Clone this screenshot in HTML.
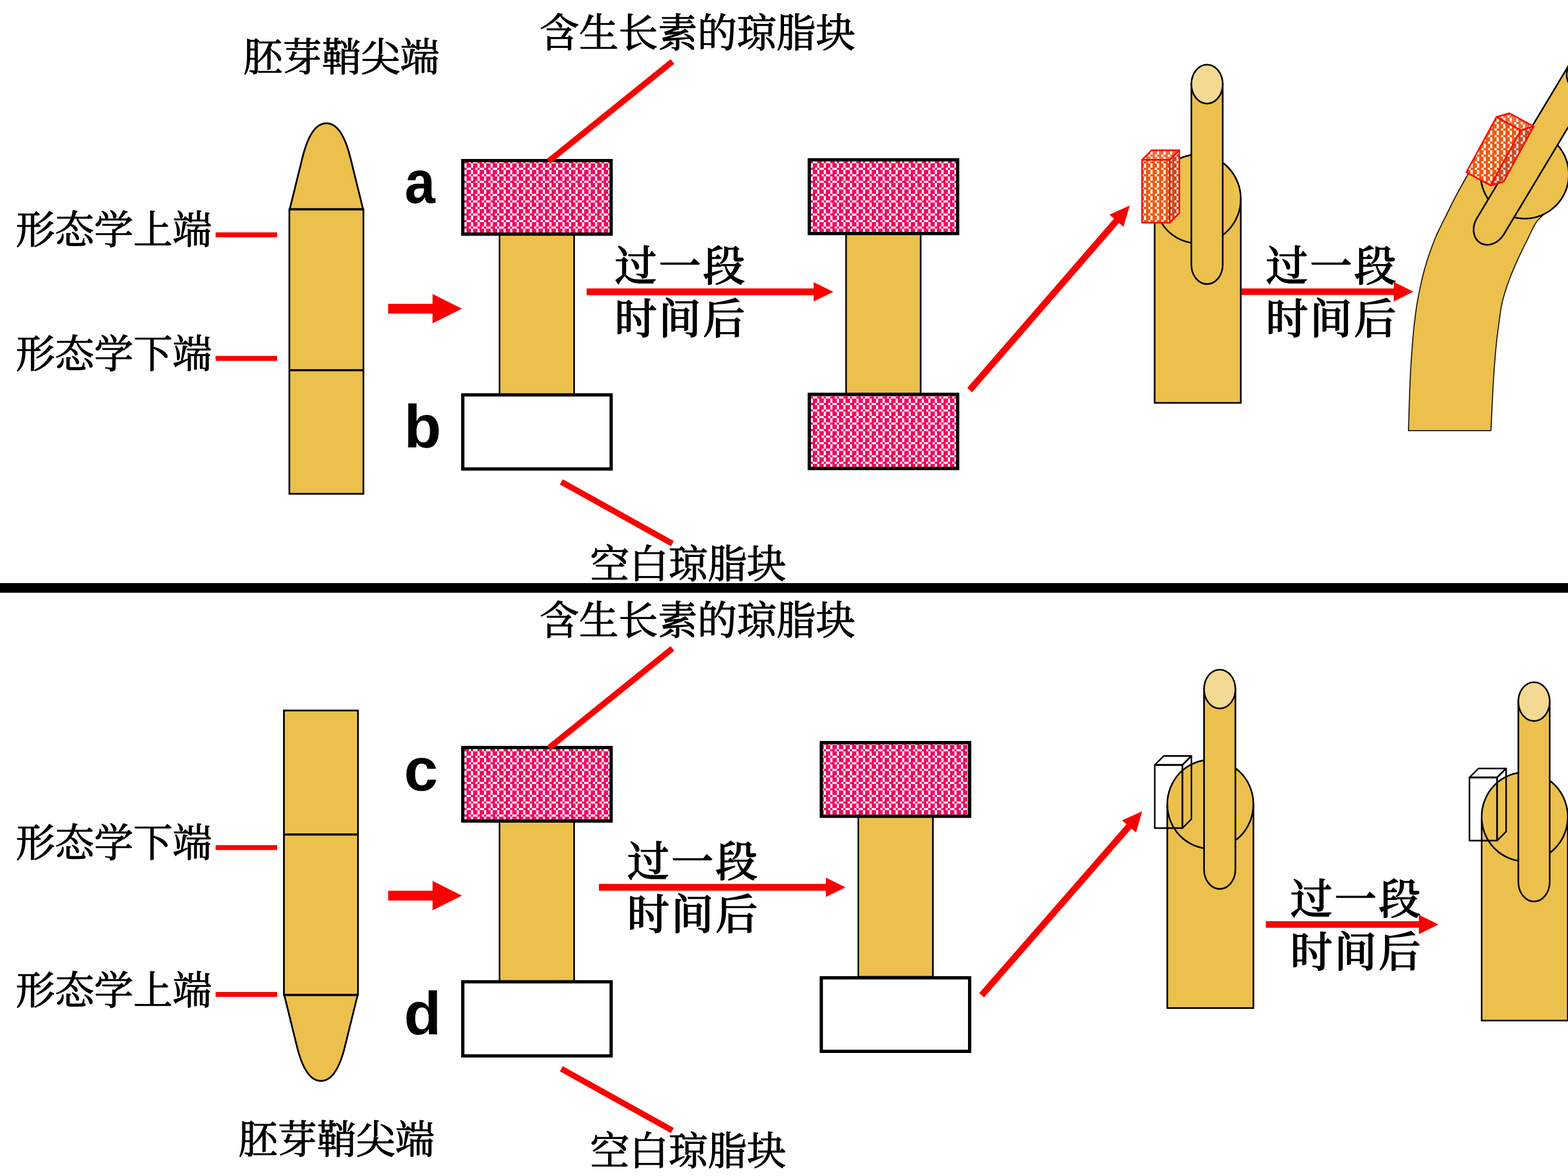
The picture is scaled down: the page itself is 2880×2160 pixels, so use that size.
<!DOCTYPE html>
<html lang="zh-CN"><head><meta charset="utf-8"><title>生长素极性运输实验</title>
<style>
html,body{margin:0;padding:0;background:#fff;width:2880px;height:2160px;overflow:hidden}
svg{display:block}
.cn{font-family:"Liberation Serif","Noto Serif CJK SC",serif;font-weight:400;fill:#000;stroke:#000;stroke-width:1.5px;stroke-linejoin:round}
.cnb{letter-spacing:3.5px;font-family:"Liberation Serif","Noto Serif CJK SC",serif;font-weight:500;fill:#000;stroke:#000;stroke-width:1.6px;stroke-linejoin:round}
.en{font-family:"Liberation Sans","Noto Sans CJK SC",sans-serif;font-weight:700;fill:#000}
</style></head><body>
<svg width="2880" height="2160" viewBox="0 0 2880 2160">
<rect width="2880" height="2160" fill="#fff"/>
<defs>
<pattern id="pk" x="13" y="20" width="24" height="24" patternUnits="userSpaceOnUse"><rect width="24" height="24" fill="#F3055F"/><rect x="4" y="0" width="8" height="4" fill="#FFF0FA"/><rect x="20" y="0" width="4" height="4" fill="#FFF0FA"/><rect x="0" y="4" width="4" height="4" fill="#FFF0FA"/><rect x="12" y="4" width="4" height="4" fill="#FFF0FA"/><rect x="0" y="8" width="4" height="4" fill="#FFF0FA"/><rect x="12" y="8" width="4" height="4" fill="#FFF0FA"/><rect x="8" y="12" width="4" height="4" fill="#FFF0FA"/><rect x="16" y="12" width="8" height="4" fill="#FFF0FA"/><rect x="0" y="16" width="4" height="4" fill="#FFF0FA"/><rect x="12" y="16" width="4" height="4" fill="#FFF0FA"/><rect x="0" y="20" width="4" height="4" fill="#FFF0FA"/><rect x="12" y="20" width="4" height="4" fill="#FFF0FA"/></pattern>
<pattern id="orf" x="9" y="8" width="12" height="12" patternUnits="userSpaceOnUse"><rect width="12" height="12" fill="#EE5A17"/><rect x="0" y="0" width="4" height="4" fill="#FFF9E0"/><rect x="4" y="4" width="4" height="8" fill="#FFF9E0"/></pattern>
<pattern id="ors" x="9" y="8" width="12" height="12" patternUnits="userSpaceOnUse"><rect width="12" height="12" fill="#C44E1E"/><rect x="0" y="0" width="4" height="4" fill="#F5D8D4"/><rect x="4" y="4" width="4" height="8" fill="#F5D8D4"/></pattern>
<pattern id="ort" x="9" y="8" width="12" height="12" patternUnits="userSpaceOnUse"><rect width="12" height="12" fill="#EF6C3C"/><rect x="0" y="0" width="4" height="4" fill="#FFF8DC"/><rect x="4" y="4" width="4" height="8" fill="#FFF8DC"/></pattern>
</defs>
<text x="447" y="129.5" font-size="72" class="cn" text-anchor="start" >胚芽鞘尖端</text>
<text x="991" y="86" font-size="72.5" class="cn" text-anchor="start" >含生长素的琼脂块</text>
<text x="29" y="446.5" font-size="72" class="cn" text-anchor="start" >形态学上端</text>
<text x="29" y="674.5" font-size="72" class="cn" text-anchor="start" >形态学下端</text>
<line x1="396" y1="431.3" x2="509" y2="431.3" stroke="#FB0000" stroke-width="9"/>
<line x1="396" y1="658.3" x2="509" y2="658.3" stroke="#FB0000" stroke-width="9"/>
<path d="M532.1,384.4 L555.2,290.7 C558.7,276.5 570.5,226.4 599.5,226.4 C628.5,226.4 640.3,276.5 643.8,290.7 L666.9,384.4 Z" fill="#EBC04D" stroke="#000" stroke-width="3.2" stroke-linejoin="round"/><rect x="531.5" y="384.4" width="136" height="522.6" fill="#EBC04D" stroke="#000" stroke-width="3.2"/><line x1="531.5" y1="680" x2="667.5" y2="680" stroke="#000" stroke-width="4"/><line x1="531.5" y1="384.4" x2="667.5" y2="384.4" stroke="#000" stroke-width="4"/>
<path d="M713,558.0 L794.5,558.0 L794.5,540 L848.5,567 L794.5,594 L794.5,576.0 L713,576.0 Z" fill="#FB0000"/>
<g transform="translate(747.7,373.4) scale(0.9,1)"><text x="-5" y="0" font-size="112" class="en" text-anchor="start" >a</text></g>
<text x="742" y="822" font-size="112" class="en" text-anchor="start" >b</text>
<rect x="917.5" y="431" width="137" height="294" fill="#EBC04D" stroke="#000" stroke-width="3"/>
<rect x="850.0" y="295.0" width="272.5" height="135" fill="url(#pk)" stroke="#000" stroke-width="6"/>
<rect x="850.0" y="725.3" width="272.5" height="136.10000000000002" fill="#fff" stroke="#000" stroke-width="6"/>
<line x1="1235" y1="113" x2="1008" y2="296" stroke="#FB0000" stroke-width="11"/>
<line x1="1031" y1="885" x2="1235" y2="998.5" stroke="#FB0000" stroke-width="11"/>
<text x="1084" y="1061" font-size="72" class="cn" text-anchor="start" >空白琼脂块</text>
<text x="1129" y="516" font-size="77.5" class="cnb" text-anchor="start" >过一段</text>
<text x="1129" y="613" font-size="77.5" class="cnb" text-anchor="start" >时间后</text>
<path d="M1077.5,529.75 L1494.5,529.75 L1494.5,518.3 L1530.5,536 L1494.5,553.7 L1494.5,542.25 L1077.5,542.25 Z" fill="#FB0000"/>
<rect x="1554" y="430" width="137" height="294" fill="#EBC04D" stroke="#000" stroke-width="3"/>
<rect x="1486.5" y="293.5" width="272.5" height="135.5" fill="url(#pk)" stroke="#000" stroke-width="6"/>
<rect x="1486.5" y="724.3" width="272.5" height="136.20000000000005" fill="url(#pk)" stroke="#000" stroke-width="6"/>
<path d="M1785.5,720.4 L2055.3,409.4 L2063.6,416.6 L2075.0,377.5 L2037.9,394.3 L2046.2,401.5 L1776.5,712.6 Z" fill="#FB0000"/>
<path d="M2120.8,740 L2120.8,365.3 A79.1,81.6 0 0 1 2279.0,365.3 L2279.0,740 Z" fill="#EBC04D" stroke="none"/><ellipse cx="2199.9" cy="365.3" rx="79.1" ry="81.6" fill="#EBC04D" stroke="#000" stroke-width="3"/><path d="M2120.8,365.3 L2120.8,740 L2279.0,740 L2279.0,365.3" fill="none" stroke="#000" stroke-width="3"/><path d="M2188.2,154.5 L2188.2,486 A28.8,35.7 0 0 0 2245.8,486 L2245.8,154.5 Z" fill="#EBC04D" stroke="#000" stroke-width="3"/><ellipse cx="2217" cy="154.5" rx="28.8" ry="35.7" fill="#F3D992" stroke="#000" stroke-width="3"/>
<path d="M2097.7,293.5 L2115.2,276.0 L2166.0,276.0 L2148.5,293.5 Z" fill="url(#ort)" stroke="#FA0A0A" stroke-width="3" stroke-linejoin="round"/><path d="M2148.5,293.5 L2166.0,276.0 L2166.0,391.5 L2148.5,409.0 Z" fill="url(#ors)" stroke="#FA0A0A" stroke-width="3" stroke-linejoin="round"/><path d="M2097.7,293.5 L2148.5,293.5 L2148.5,409.0 L2097.7,409.0 Z" fill="url(#orf)" stroke="#FA0A0A" stroke-width="3" stroke-linejoin="round"/>
<text x="2325" y="516" font-size="77.5" class="cnb" text-anchor="start" >过一段</text>
<text x="2325" y="613" font-size="77.5" class="cnb" text-anchor="start" >时间后</text>
<path d="M2280,529.7 L2560,529.7 L2560,517.7 L2596,535.7 L2560,553.7 L2560,541.7 L2280,541.7 Z" fill="#FB0000"/>
<path d="M2587.0,791.0 C2587.2,784.2 2587.8,763.4 2588.2,750.1 C2588.6,736.9 2589.0,724.4 2589.5,711.5 C2590.0,698.6 2590.6,685.8 2591.4,672.9 C2592.2,660.0 2593.1,647.2 2594.1,634.3 C2595.1,621.4 2596.1,608.6 2597.6,595.7 C2599.1,582.9 2600.7,570.1 2602.8,557.2 C2605.0,544.4 2607.6,531.3 2610.5,518.6 C2613.4,505.9 2616.4,494.1 2620.5,481.0 C2624.6,467.9 2630.8,450.8 2635.0,440.0 C2639.2,429.2 2641.9,424.7 2645.9,416.4 C2649.9,408.1 2654.6,399.0 2658.9,390.3 C2663.2,381.6 2667.6,372.6 2671.9,364.3 C2676.2,356.0 2680.9,347.6 2684.9,340.4 C2688.9,333.2 2691.3,328.5 2695.8,320.9 C2700.3,313.3 2709.3,299.3 2712.0,295.0 L2800,320 L2834.9,394.3 C2832.5,396.9 2825.2,402.7 2820.4,410.2 C2815.6,417.7 2811.5,427.8 2805.9,439.1 C2800.3,450.4 2792.9,464.8 2787.0,478.0 C2781.1,491.2 2775.0,505.4 2770.3,518.6 C2765.6,531.8 2761.6,544.4 2758.7,557.2 C2755.8,570.1 2754.7,582.9 2752.9,595.7 C2751.1,608.6 2749.4,621.4 2748.1,634.3 C2746.8,647.2 2745.8,660.0 2744.8,672.9 C2743.8,685.8 2743.0,698.6 2742.3,711.5 C2741.6,724.4 2741.1,736.9 2740.4,750.1 C2739.8,763.4 2738.7,784.2 2738.4,791.0 Z" fill="#EBC04D" stroke="#1e1608" stroke-width="2" stroke-linejoin="round"/>
<circle cx="2800.5" cy="320.5" r="81" fill="#EBC04D" stroke="#000" stroke-width="3"/>
<g transform="translate(2737.4,415.6) rotate(31)"><path d="M-28.8,-420 L-28.8,0 A28.8,35.7 0 0 0 28.8,0 L28.8,-420 Z" fill="#EBC04D" stroke="#000" stroke-width="3"/><ellipse cx="0" cy="-332" rx="28.8" ry="35.7" fill="#F3D992" stroke="#000" stroke-width="3"/></g>
<path d="M2748.6,215.0 L2772.3,208.0 L2816.9,232.3 L2793.2,239.3 Z" fill="url(#ort)" stroke="#FA0A0A" stroke-width="3" stroke-linejoin="round"/><path d="M2793.2,239.3 L2816.9,232.3 L2761.7,333.7 L2737.9,340.7 Z" fill="url(#ors)" stroke="#FA0A0A" stroke-width="3" stroke-linejoin="round"/><path d="M2748.6,215.0 L2793.2,239.3 L2737.9,340.7 L2693.3,316.4 Z" fill="url(#orf)" stroke="#FA0A0A" stroke-width="3" stroke-linejoin="round"/>
<rect x="0" y="1071" width="2880" height="17.7" fill="#000"/>
<text x="991" y="1164.7" font-size="72.5" class="cn" text-anchor="start" >含生长素的琼脂块</text>
<text x="29" y="1572.5" font-size="72" class="cn" text-anchor="start" >形态学下端</text>
<text x="29" y="1843.5" font-size="72" class="cn" text-anchor="start" >形态学上端</text>
<line x1="396" y1="1556.7" x2="509" y2="1556.7" stroke="#FB0000" stroke-width="9"/>
<line x1="396" y1="1826.6" x2="509" y2="1826.6" stroke="#FB0000" stroke-width="9"/>
<path d="M522.1,1827.5 L545.2,1921.2 C548.7,1935.3 560.5,1985.4 589.5,1985.4 C618.5,1985.4 630.3,1935.3 633.8,1921.2 L656.9,1827.5 Z" fill="#EBC04D" stroke="#000" stroke-width="3.2" stroke-linejoin="round"/><rect x="521.5" y="1305" width="136" height="522.5" fill="#EBC04D" stroke="#000" stroke-width="3.2"/><line x1="521.5" y1="1532.8" x2="657.5" y2="1532.8" stroke="#000" stroke-width="4"/><line x1="521.5" y1="1827.5" x2="657.5" y2="1827.5" stroke="#000" stroke-width="4"/>
<text x="438" y="2117.5" font-size="72" class="cn" text-anchor="start" >胚芽鞘尖端</text>
<path d="M713,1636.0 L794.5,1636.0 L794.5,1618 L848.5,1645 L794.5,1672 L794.5,1654.0 L713,1654.0 Z" fill="#FB0000"/>
<text x="742" y="1452" font-size="112" class="en" text-anchor="start" >c</text>
<text x="742" y="1900" font-size="112" class="en" text-anchor="start" >d</text>
<rect x="917.5" y="1509" width="137" height="294" fill="#EBC04D" stroke="#000" stroke-width="3"/>
<rect x="850.0" y="1373.0" width="272.5" height="135" fill="url(#pk)" stroke="#000" stroke-width="6"/>
<rect x="850.0" y="1803.3" width="272.5" height="136.10000000000014" fill="#fff" stroke="#000" stroke-width="6"/>
<line x1="1235" y1="1191" x2="1008" y2="1374" stroke="#FB0000" stroke-width="11"/>
<line x1="1031" y1="1963" x2="1235" y2="2076.5" stroke="#FB0000" stroke-width="11"/>
<text x="1084" y="2139" font-size="72" class="cn" text-anchor="start" >空白琼脂块</text>
<text x="1152" y="1610" font-size="77.5" class="cnb" text-anchor="start" >过一段</text>
<text x="1152" y="1707" font-size="77.5" class="cnb" text-anchor="start" >时间后</text>
<path d="M1100,1623.45 L1517,1623.45 L1517,1612.0 L1553,1629.7 L1517,1647.4 L1517,1635.95 L1100,1635.95 Z" fill="#FB0000"/>
<rect x="1576.5" y="1500" width="137" height="294" fill="#EBC04D" stroke="#000" stroke-width="3"/>
<rect x="1508.5" y="1364.0" width="272.5" height="135.29999999999995" fill="url(#pk)" stroke="#000" stroke-width="6"/>
<rect x="1508.5" y="1796.0" width="272.5" height="135" fill="#fff" stroke="#000" stroke-width="6"/>
<path d="M1807.5,1831.9 L2078.2,1521.8 L2086.5,1529.1 L2098.0,1490.0 L2060.9,1506.7 L2069.1,1513.9 L1798.5,1824.1 Z" fill="#FB0000"/>
<path d="M2144,1851.5 L2144,1477.2 A79.1,81.6 0 0 1 2302.2,1477.2 L2302.2,1851.5 Z" fill="#EBC04D" stroke="none"/><ellipse cx="2223.1" cy="1477.2" rx="79.1" ry="81.6" fill="#EBC04D" stroke="#000" stroke-width="3"/><path d="M2144,1477.2 L2144,1851.5 L2302.2,1851.5 L2302.2,1477.2" fill="none" stroke="#000" stroke-width="3"/><path d="M2211.5,1265.6 L2211.5,1597 A28.8,35.7 0 0 0 2269.1000000000004,1597 L2269.1000000000004,1265.6 Z" fill="#EBC04D" stroke="#000" stroke-width="3"/><ellipse cx="2240.3" cy="1265.6" rx="28.8" ry="35.7" fill="#F3D992" stroke="#000" stroke-width="3"/>
<path d="M2121.0,1405.0 L2137.5,1388.5 L2188.3,1388.5 L2171.8,1405.0 Z" fill="none" stroke="#000" stroke-width="2.8" stroke-linejoin="round"/><path d="M2171.8,1405.0 L2188.3,1388.5 L2188.3,1504.5 L2171.8,1521.0 Z" fill="none" stroke="#000" stroke-width="2.8" stroke-linejoin="round"/><path d="M2121.0,1405.0 L2171.8,1405.0 L2171.8,1521.0 L2121.0,1521.0 Z" fill="none" stroke="#000" stroke-width="2.8" stroke-linejoin="round"/>
<text x="2370" y="1679" font-size="77.5" class="cnb" text-anchor="start" >过一段</text>
<text x="2370" y="1776" font-size="77.5" class="cnb" text-anchor="start" >时间后</text>
<path d="M2325,1692.0 L2606,1692.0 L2606,1680 L2642,1698 L2606,1716 L2606,1704.0 L2325,1704.0 Z" fill="#FB0000"/>
<path d="M2721.4,1874.5 L2721.4,1500.2 A79.1,81.6 0 0 1 2879.6,1500.2 L2879.6,1874.5 Z" fill="#EBC04D" stroke="none"/><ellipse cx="2800.5" cy="1500.2" rx="79.1" ry="81.6" fill="#EBC04D" stroke="#000" stroke-width="3"/><path d="M2721.4,1500.2 L2721.4,1874.5 L2879.6,1874.5 L2879.6,1500.2" fill="none" stroke="#000" stroke-width="3"/><path d="M2788.7999999999997,1288.6 L2788.7999999999997,1620 A28.8,35.7 0 0 0 2846.4,1620 L2846.4,1288.6 Z" fill="#EBC04D" stroke="#000" stroke-width="3"/><ellipse cx="2817.6" cy="1288.6" rx="28.8" ry="35.7" fill="#F3D992" stroke="#000" stroke-width="3"/>
<path d="M2699.0,1428.0 L2715.5,1411.5 L2766.3,1411.5 L2749.8,1428.0 Z" fill="none" stroke="#000" stroke-width="2.8" stroke-linejoin="round"/><path d="M2749.8,1428.0 L2766.3,1411.5 L2766.3,1527.5 L2749.8,1544.0 Z" fill="none" stroke="#000" stroke-width="2.8" stroke-linejoin="round"/><path d="M2699.0,1428.0 L2749.8,1428.0 L2749.8,1544.0 L2699.0,1544.0 Z" fill="none" stroke="#000" stroke-width="2.8" stroke-linejoin="round"/>
</svg>
</body></html>
